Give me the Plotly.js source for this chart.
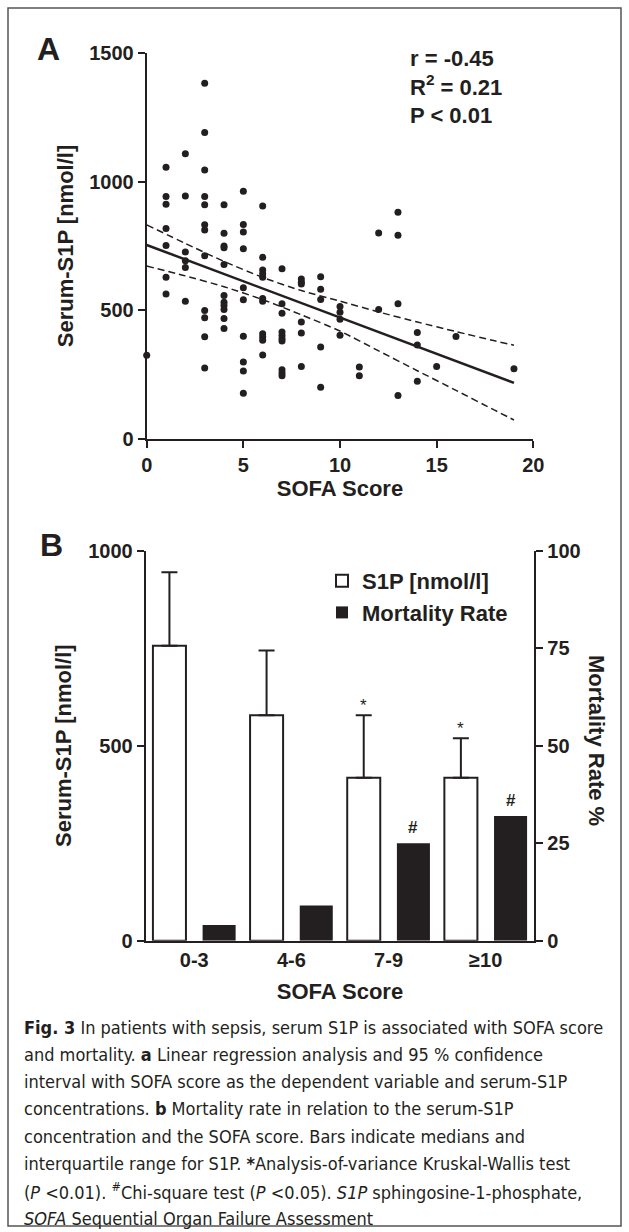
<!DOCTYPE html>
<html><head><meta charset="utf-8">
<script src="https://cdn.plot.ly/plotly-3.0.1.min.js"></script>
<style>html,body{margin:0;padding:0;background:#fff}#chart{width:629px;height:1232px}</style>
</head><body><div id="chart"></div>
<script>
// ---------- Panel A data ----------
const sofaScore = [
  0,
  1,1,1,1,1,1,1,
  2,2,2,2,2,2,
  3,3,3,3,3,3,3,3,3,3,3,3,
  4,4,4,4,4,4,4,4,4,4,4,
  5,5,5,5,5,5,5,5,5,5,
  6,6,6,6,6,6,6,6,6,6,6,
  7,7,7,7,7,7,7,7,7,7,
  8,8,8,8,8,8,
  9,9,9,9,9,
  10,10,10,10,
  11,11,
  12,12,
  13,13,13,13,
  14,14,14,
  15,
  16,
  19
];
const serumS1P = [
  326,
  1056,942,912,818,752,629,564,
  1108,944,727,693,667,536,
  1381,1190,1045,942,910,832,812,712,500,472,398,277,
  910,799,750,743,678,558,532,519,504,469,430,
  962,833,804,739,588,541,400,300,265,179,
  905,706,657,642,629,546,536,410,397,384,327,
  662,526,489,416,403,390,381,270,257,247,
  622,609,603,455,412,282,
  631,582,542,358,202,
  515,493,466,404,
  281,247,
  800,504,
  881,792,526,170,
  414,366,225,
  282,
  399,
  274
];
const fitSofa = [0, 19];
const fitS1P = [754, 219];
const ciSofa  = [0, 2, 4, 6, 8, 10, 12, 14, 16, 18, 19];
const ciUpper = [832, 760, 690, 628, 577, 536, 494, 455, 418, 382, 365];
const ciLower = [672, 634, 592, 542, 483, 420, 343, 266, 190, 113, 75];
const sofaTicks = [0, 5, 10, 15, 20];
const s1pTicksA = [0, 500, 1000, 1500];
const statsLines = ['r = -0.45', 'R<sup>2</sup> = 0.21', 'P &lt; 0.01'];

// ---------- Panel B data ----------
const sofaGroups = ['0-3', '4-6', '7-9', '\u226510'];
const s1pMedian = [756, 578, 418, 418];
const s1pQ3 = [945, 744, 578, 519];
const mortalityRate = [4, 9, 25, 32];
const s1pTicksB = [0, 500, 1000];
const mortalityTicks = [0, 25, 50, 75, 100];
const s1pSig = ['', '', '*', '*'];
const mortalitySig = ['', '', '#', '#'];

const captionLines = [
  '<b>Fig. 3</b> In patients with sepsis, serum S1P is associated with SOFA score',
  'and mortality. <b>a</b> Linear regression analysis and 95 % confidence',
  'interval with SOFA score as the dependent variable and serum-S1P',
  'concentrations. <b>b</b> Mortality rate in relation to the serum-S1P',
  'concentration and the SOFA score. Bars indicate medians and',
  'interquartile range for S1P. <b>*</b>Analysis-of-variance Kruskal-Wallis test',
  '(<i>P</i> &lt;0.01). <sup>#</sup>Chi-square test (<i>P</i> &lt;0.05). <i>S1P</i> sphingosine-1-phosphate,',
  '<i>SOFA</i> Sequential Organ Failure Assessment'
];

// ---------- styling / layout ----------
const W = 629, H = 1232;
const fx = v => v / W;
const fy = v => 1 - v / H;
const INK = '#231f20';
const FAM = 'Liberation Sans, Arial, Helvetica, sans-serif';
const tickFont = {family: FAM, size: 20, color: INK, weight: 'bold'};
const titleFont = {family: FAM, size: 22, color: INK, weight: 'bold'};
const capFont = {family: 'Liberation Sans Narrow, DejaVu Sans Condensed, Arial Narrow, sans-serif', size: 18, color: INK};
const bold = arr => arr.map(v => '<b>' + v + '</b>');

const barW = 0.34;
const whiteOff = -0.4257, blackOff = 0.0857;

const axisCommon = {
  showline: true, linewidth: 2, linecolor: INK, ticks: 'outside', ticklen: 7,
  tickwidth: 2, tickcolor: INK, showgrid: false, zeroline: false, tickfont: tickFont,
  fixedrange: true
};

const traces = [
  {x: sofaScore, y: serumS1P, xaxis: 'x', yaxis: 'y', type: 'scatter', mode: 'markers',
   marker: {size: 7, color: INK}, cliponaxis: false, showlegend: false, hoverinfo: 'skip'},
  {x: fitSofa, y: fitS1P, xaxis: 'x', yaxis: 'y', type: 'scatter', mode: 'lines',
   line: {color: INK, width: 2.5}, showlegend: false, hoverinfo: 'skip'},
  {x: ciSofa, y: ciUpper, xaxis: 'x', yaxis: 'y', type: 'scatter', mode: 'lines',
   line: {color: INK, width: 1.5, dash: '7px,4px', shape: 'spline', smoothing: 0.6}, showlegend: false, hoverinfo: 'skip'},
  {x: ciSofa, y: ciLower, xaxis: 'x', yaxis: 'y', type: 'scatter', mode: 'lines',
   line: {color: INK, width: 1.5, dash: '7px,4px', shape: 'spline', smoothing: 0.6}, showlegend: false, hoverinfo: 'skip'},
  {x: sofaGroups, y: s1pMedian, xaxis: 'x2', yaxis: 'y2', type: 'bar', name: 'S1P [nmol/l]',
   width: barW, offset: whiteOff,
   marker: {color: '#ffffff', line: {color: INK, width: 2}},
   error_y: {type: 'data', symmetric: false, array: s1pQ3.map((q, i) => q - s1pMedian[i]),
             arrayminus: s1pQ3.map(() => 0), color: INK, thickness: 2, width: 8}},
  {x: sofaGroups, y: mortalityRate, xaxis: 'x2', yaxis: 'y3', type: 'bar', name: 'Mortality Rate',
   width: barW, offset: blackOff, marker: {color: INK, line: {color: INK, width: 0}}}
];

const plotBW = 534.3 - 145.7;
const catPx = plotBW / sofaGroups.length;
const annotations = [
  {text: '<b>A</b>', x: fx(48.5), y: fy(49), xref: 'paper', yref: 'paper', showarrow: false,
   font: {family: FAM, size: 32, color: INK}, xanchor: 'center', yanchor: 'middle'},
  {text: '<b>B</b>', x: fx(51.3), y: fy(545), xref: 'paper', yref: 'paper', showarrow: false,
   font: {family: FAM, size: 32, color: INK}, xanchor: 'center', yanchor: 'middle'},
  {text: statsLines.join('<br>'), x: fx(408), y: fy(44), xref: 'paper', yref: 'paper', showarrow: false,
   align: 'left', xanchor: 'left', yanchor: 'top', font: titleFont},
  {text: '<b>Mortality Rate %</b>', x: fx(597), y: fy(740), xref: 'paper', yref: 'paper', showarrow: false,
   textangle: 90, font: titleFont, xanchor: 'center', yanchor: 'middle'}
];
sofaGroups.forEach((g, i) => {
  if (s1pSig[i]) annotations.push({text: s1pSig[i], x: g, y: s1pQ3[i], xref: 'x2', yref: 'y2',
    showarrow: false, xshift: (whiteOff + barW / 2) * catPx, yshift: 10, yanchor: 'middle',
    font: {family: FAM, size: 17, color: INK}});
  if (mortalitySig[i]) annotations.push({text: '<b>' + mortalitySig[i] + '</b>', x: g, y: mortalityRate[i],
    xref: 'x2', yref: 'y3', showarrow: false, xshift: (blackOff + barW / 2) * catPx, yshift: 4,
    yanchor: 'bottom', font: {family: FAM, size: 17, color: INK}});
});
captionLines.forEach((t, i) => annotations.push({
  text: t, x: fx(22), y: fy(1027 + i * 27.3), xref: 'paper', yref: 'paper', showarrow: false,
  xanchor: 'left', yanchor: 'middle', align: 'left', font: capFont
}));

const layout = {
  width: W, height: H, margin: {l: 0, r: 0, t: 0, b: 0},
  paper_bgcolor: '#ffffff', plot_bgcolor: 'rgba(0,0,0,0)',
  xaxis: Object.assign({}, axisCommon, {domain: [fx(146.7), fx(533.3)], anchor: 'y', range: [0, 20],
    tickvals: sofaTicks, ticktext: bold(sofaTicks), title: {text: '<b>SOFA Score</b>', font: titleFont, standoff: 2}}),
  yaxis: Object.assign({}, axisCommon, {domain: [fy(439.3), fy(52.7)], anchor: 'x', range: [0, 1500],
    tickvals: s1pTicksA, ticktext: bold(s1pTicksA), title: {text: '<b>Serum-S1P [nmol/l]</b>', font: titleFont, standoff: 10}}),
  xaxis2: Object.assign({}, axisCommon, {domain: [fx(145.7), fx(534.3)], anchor: 'y2', type: 'category',
    tickvals: sofaGroups, ticktext: bold(sofaGroups),
    ticks: '', title: {text: '<b>SOFA Score</b>', font: titleFont, standoff: 14}}),
  yaxis2: Object.assign({}, axisCommon, {domain: [fy(940.7), fy(550.7)], anchor: 'x2', range: [0, 1000],
    tickvals: s1pTicksB, ticktext: bold(s1pTicksB), title: {text: '<b>Serum-S1P [nmol/l]</b>', font: titleFont, standoff: 10}}),
  yaxis3: Object.assign({}, axisCommon, {overlaying: 'y2', anchor: 'x2', side: 'right', range: [0, 100],
    tickvals: mortalityTicks, ticktext: bold(mortalityTicks)}),
  showlegend: true,
  legend: {x: fx(322), y: fy(560), xanchor: 'left', yanchor: 'top', font: titleFont,
    bgcolor: 'rgba(0,0,0,0)', tracegroupgap: 0, itemwidth: 30},
  annotations: annotations,
  shapes: [{type: 'rect', xref: 'paper', yref: 'paper', x0: fx(8), x1: fx(621), y0: fy(1226), y1: fy(8),
    line: {color: '#555', width: 1.5}}]
};

Plotly.newPlot('chart', traces, layout, {staticPlot: true, displayModeBar: false});
</script></body></html>
